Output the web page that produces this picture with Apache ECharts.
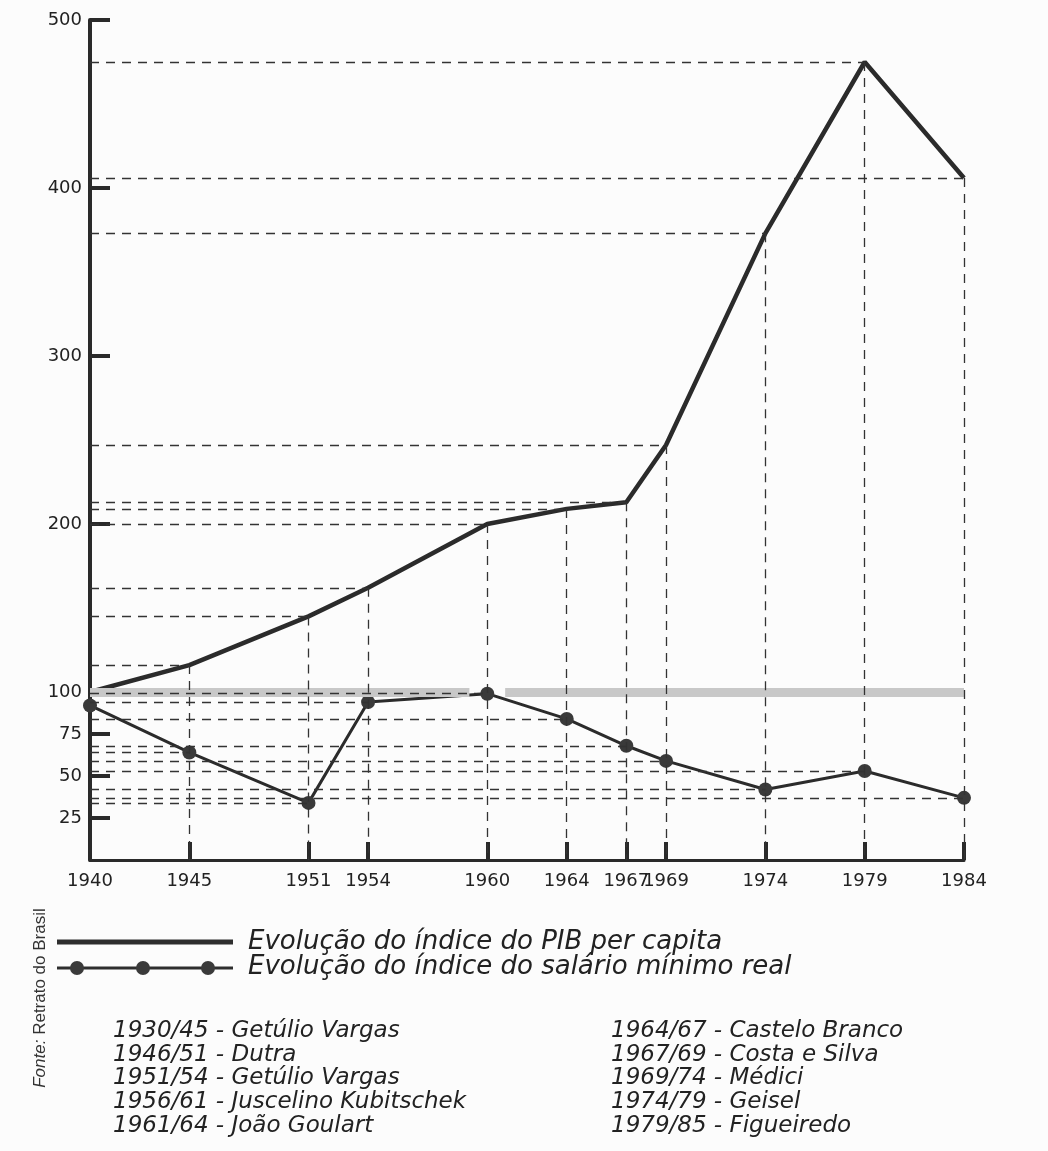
<!DOCTYPE html>
<html>
<head>
<meta charset="utf-8">
<title>PIB per capita e salário mínimo real</title>
<script src="https://cdn.jsdelivr.net/npm/echarts@6/dist/echarts.min.js"></script>
<style>
  html, body { margin: 0; padding: 0; background: #fcfcfc; }
  #chart { width: 1048px; height: 1151px; }
</style>
</head>
<body>
<div id="chart"></div>
<script>
// anos do eixo x
var anos = [1940, 1945, 1951, 1954, 1960, 1964, 1967, 1969, 1974, 1979, 1984];
// índice do PIB per capita (1940 = 100)
var pib = [100, 116, 145, 162, 200, 209, 213, 247, 373, 475, 406];
// índice do salário mínimo real
var salario = [92, 64, 34, 94, 99, 84, 68, 59, 42, 53, 37];
// rótulos e marcas do eixo y
var yLabels = [25, 50, 75, 100, 200, 300, 400, 500];
var yTicks = [25, 50, 75, 200, 300, 400, 500];
// faixa cinza do índice 100 (com interrupção)
var faixa100 = [[1940, 1959.1], [1960.9, 1984]];

var legendaPib = 'Evolução do índice do PIB per capita';
var legendaSal = 'Evolução do índice do salário mínimo real';
var governosEsq = [
  '1930/45 - Getúlio Vargas',
  '1946/51 - Dutra',
  '1951/54 - Getúlio Vargas',
  '1956/61 - Juscelino Kubitschek',
  '1961/64 - João Goulart'
];
var governosDir = [
  '1964/67 - Castelo Branco',
  '1967/69 - Costa e Silva',
  '1969/74 - Médici',
  '1974/79 - Geisel',
  '1979/85 - Figueiredo'
];

var FONT = '"DejaVu Sans", "Liberation Sans", sans-serif';

function toPairs(vals) {
  var out = [];
  for (var i = 0; i < anos.length; i++) out.push([anos[i], vals[i]]);
  return out;
}

// linhas tracejadas de referência: horizontal até o eixo y,
// vertical até o eixo x (só a partir da curva de cima)
function guias(vals, comVertical) {
  var out = [];
  for (var i = 1; i < anos.length; i++) {
    out.push([{ coord: [anos[0], vals[i]] }, { coord: [anos[i], vals[i]] }]);
    if (comVertical) {
      out.push([{ coord: [anos[i], vals[i]] }, { coord: [anos[i], 0] }]);
    }
  }
  return out;
}

var bandLines = faixa100.map(function (s) {
  return [{ coord: [s[0], 100] }, { coord: [s[1], 100] }];
});

var graphics = [];
// legenda
graphics.push({ type: 'line', shape: { x1: 57, y1: 942, x2: 233, y2: 942 },
  style: { stroke: '#2e2e2e', lineWidth: 5 } });
graphics.push({ type: 'line', shape: { x1: 57, y1: 968, x2: 233, y2: 968 },
  style: { stroke: '#2e2e2e', lineWidth: 3 } });
[77, 143, 208].forEach(function (cx) {
  graphics.push({ type: 'circle', shape: { cx: cx, cy: 968, r: 7 }, style: { fill: '#3a3a3a' } });
});
graphics.push({ type: 'text', x: 248, y: 942,
  style: { text: legendaPib, font: 'italic 26px ' + FONT, fill: '#222', verticalAlign: 'middle' } });
graphics.push({ type: 'text', x: 248, y: 967,
  style: { text: legendaSal, font: 'italic 26px ' + FONT, fill: '#222', verticalAlign: 'middle' } });
// governos
for (var i = 0; i < governosEsq.length; i++) {
  graphics.push({ type: 'text', x: 113, y: 1031 + i * 23.7,
    style: { text: governosEsq[i], font: 'italic 23px ' + FONT, fill: '#222', verticalAlign: 'middle' } });
  graphics.push({ type: 'text', x: 611, y: 1031 + i * 23.7,
    style: { text: governosDir[i], font: 'italic 23px ' + FONT, fill: '#222', verticalAlign: 'middle' } });
}
// fonte
graphics.push({ type: 'text', x: 40, y: 998, rotation: Math.PI / 2,
  style: {
    text: '{i|Fonte:} Retrato do Brasil',
    font: '17px "Liberation Sans", sans-serif', fill: '#333',
    align: 'center', verticalAlign: 'middle',
    rich: { i: { fontStyle: 'italic', fontSize: 17, fontFamily: 'Liberation Sans' } }
  } });

var chart = echarts.init(document.getElementById('chart'));
chart.setOption({
  backgroundColor: '#fcfcfc',
  animation: false,
  grid: { left: 90, right: 84, top: 20, bottom: 291 },
  xAxis: {
    type: 'value', min: 1940, max: 1984,
    splitLine: { show: false },
    axisLine: { lineStyle: { color: '#2a2a2a', width: 3 } },
    axisTick: { inside: true, length: 18, lineStyle: { color: '#2a2a2a', width: 4 }, customValues: anos },
    axisLabel: {
      customValues: anos, color: '#222', fontFamily: FONT, fontSize: 18, margin: 12,
      formatter: function (v) { return String(v); }
    }
  },
  yAxis: {
    type: 'value', min: 0, max: 500,
    splitLine: { show: false },
    axisLine: { show: true, lineStyle: { color: '#2a2a2a', width: 4 } },
    axisTick: { show: true, inside: true, length: 20, lineStyle: { color: '#2a2a2a', width: 4 }, customValues: yTicks },
    axisLabel: { customValues: yLabels, color: '#222', fontFamily: FONT, fontSize: 18, margin: 8 }
  },
  graphic: graphics,
  series: [
    {
      name: 'faixa', type: 'line', data: [], z: 1, silent: true,
      markLine: {
        silent: true, symbol: ['none', 'none'], label: { show: false },
        lineStyle: { color: '#c8c8c8', width: 9, type: 'solid' },
        data: bandLines
      }
    },
    {
      name: 'guias', type: 'line', data: [], z: 2, silent: true,
      markLine: {
        silent: true, symbol: ['none', 'none'], label: { show: false },
        lineStyle: { color: '#333', width: 1.3, type: [9, 7] },
        data: guias(pib, true).concat(guias(salario, false))
      }
    },
    {
      name: legendaPib, type: 'line', data: toPairs(pib), z: 3,
      symbol: 'none',
      lineStyle: { color: '#2b2b2b', width: 4.5 }
    },
    {
      name: legendaSal, type: 'line', data: toPairs(salario), z: 4,
      symbol: 'circle', symbolSize: 14,
      itemStyle: { color: '#3a3a3a' },
      lineStyle: { color: '#2b2b2b', width: 3 }
    }
  ]
});
</script>
</body>
</html>
